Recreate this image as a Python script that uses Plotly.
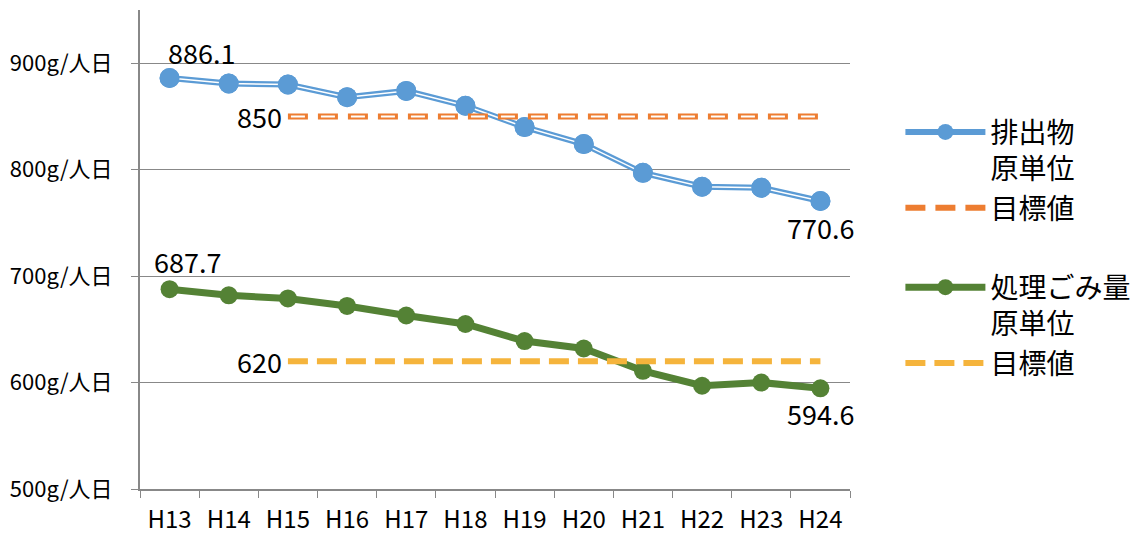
import plotly.graph_objects as go

years = ["H13", "H14", "H15", "H16", "H17", "H18", "H19", "H20", "H21", "H22", "H23", "H24"]
discharge = [886.1, 881, 880, 868, 874, 860, 840, 824, 797, 784, 783, 770.6]
processed = [687.7, 682, 679, 672, 663, 655, 639, 632, 611, 597, 600, 594.6]
target_years = ["H15", "H16", "H17", "H18", "H19", "H20", "H21", "H22", "H23", "H24"]
target_discharge = [850] * len(target_years)
target_processed = [620] * len(target_years)
y_tickvals = [500, 600, 700, 800, 900]
y_ticktext = ["500g/人日", "600g/人日", "700g/人日", "800g/人日", "900g/人日"]

BLUE = "#5B9BD5"
ORANGE = "#ED7D31"
GREEN = "#548235"
GOLD = "#F5B43C"
GRID = "#888888"
FONT = "Noto Sans CJK JP"

fig = go.Figure()

# 排出物原単位 (double line + markers)
fig.add_trace(go.Scatter(x=years, y=discharge, mode="lines+markers", name="排出物<br>原単位",
                         line=dict(color=BLUE, width=6), marker=dict(color=BLUE, size=20),
                         legendgroup="g1", hoverinfo="skip"))
fig.add_trace(go.Scatter(x=years, y=discharge, mode="lines", showlegend=False,
                         line=dict(color="white", width=1.5), legendgroup="g1", hoverinfo="skip"))
fig.add_trace(go.Scatter(x=years, y=discharge, mode="markers", showlegend=False,
                         marker=dict(color=BLUE, size=20), legendgroup="g1", hoverinfo="skip"))

# 目標値 (orange double dashed)
fig.add_trace(go.Scatter(x=target_years, y=target_discharge, mode="lines", name="目標値",
                         line=dict(color=ORANGE, width=6, dash="20px,10px"),
                         legendgroup="g1", hoverinfo="skip"))
fig.add_trace(go.Scatter(x=target_years, y=target_discharge, mode="lines", showlegend=False,
                         line=dict(color="white", width=2, dash="0px,3px,14px,13px"),
                         legendgroup="g1", hoverinfo="skip"))

# 処理ごみ量原単位
fig.add_trace(go.Scatter(x=years, y=processed, mode="lines+markers", name="処理ごみ量<br>原単位",
                         line=dict(color=GREEN, width=7), marker=dict(color=GREEN, size=18),
                         legendgroup="g2", hoverinfo="skip"))

# 目標値 (gold dashed)
fig.add_trace(go.Scatter(x=target_years, y=target_processed, mode="lines", name="目標値",
                         line=dict(color=GOLD, width=6, dash="20px,9px"),
                         legendgroup="g2", hoverinfo="skip"))

# data labels
lab = dict(showarrow=False, font=dict(size=27, color="black", family=FONT))
fig.add_annotation(x=years[0], y=discharge[0], text=f"{discharge[0]}", xanchor="left",
                   yanchor="middle", xshift=-4, yshift=26, **lab)
fig.add_annotation(x=years[-1], y=discharge[-1], text=f"{discharge[-1]}", xanchor="center",
                   yanchor="middle", yshift=-27, **lab)
fig.add_annotation(x=years[0], y=processed[0], text=f"{processed[0]}", xanchor="left",
                   yanchor="middle", xshift=-18, yshift=28, **lab)
fig.add_annotation(x=years[-1], y=processed[-1], text=f"{processed[-1]}", xanchor="center",
                   yanchor="middle", yshift=-25, **lab)
fig.add_annotation(x=target_years[0], y=target_discharge[0], text=f"{target_discharge[0]}",
                   xanchor="right", yanchor="middle", xshift=-4, **lab)
fig.add_annotation(x=target_years[0], y=target_processed[0], text=f"{target_processed[0]}",
                   xanchor="right", yanchor="middle", xshift=-4, **lab)

# page body has an 8px margin: figure is sized/offset to compensate
fig.update_layout(
    width=1136, height=528,
    margin=dict(l=132, r=294, t=2, b=47),
    paper_bgcolor="white", plot_bgcolor="white",
    font=dict(family=FONT, size=22, color="black"),
    showlegend=True,
    legend=dict(x=1.071, y=0.797, xanchor="left", yanchor="top", valign="top",
                font=dict(size=28, color="black", family=FONT),
                traceorder="grouped", tracegroupgap=40, itemwidth=80,
                bgcolor="rgba(0,0,0,0)"),
    xaxis=dict(type="category", range=[-0.5, 11.5], showgrid=False, automargin=False,
               showline=True, linecolor=GRID, linewidth=2,
               ticks="outside", tickson="boundaries", ticklen=7, tickcolor=GRID, tickwidth=1,
               ticklabelstandoff=8, tickfont=dict(size=24, color="black")),
    yaxis=dict(range=[500, 950], tickvals=y_tickvals, ticktext=y_ticktext, automargin=False,
               showgrid=True, gridcolor=GRID, gridwidth=1,
               showline=True, linecolor=GRID, linewidth=2, zeroline=False,
               ticks="outside", ticklen=7, tickcolor=GRID, tickwidth=1,
               ticklabelstandoff=14, tickfont=dict(size=22, color="black")),
)

fig.write_html("out.html")
